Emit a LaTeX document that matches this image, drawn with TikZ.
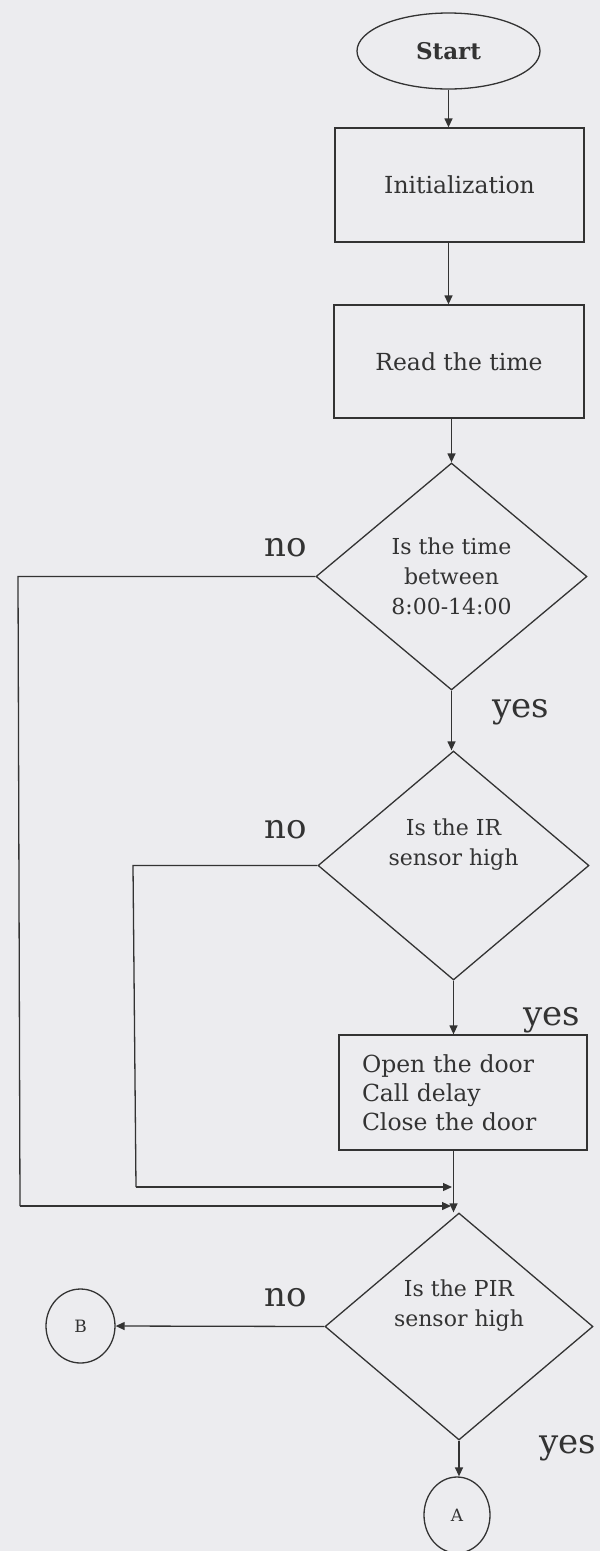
\documentclass[tikz,border=0pt]{standalone}
\usepackage{fontspec}
\setmainfont{DejaVu Serif}
\usetikzlibrary{shapes.geometric,arrows.meta}
\definecolor{paper}{HTML}{ECECEF}
\definecolor{ink}{HTML}{333333}
\tikzset{
  every node/.style={text=ink},
  base/.style={draw=ink, line width=1.3pt, inner sep=0pt, align=center},
  terminal/.style={base, ellipse, font=\fontsize{23}{27}\selectfont\bfseries},
  process/.style={base, rectangle, font=\fontsize{23.5}{29}\selectfont},
  decision/.style={base, diamond, font=\fontsize{22}{30}\selectfont},
  connector/.style={base, ellipse, font=\fontsize{17}{19}\selectfont},
  lab/.style={font=\fontsize{34}{36}\selectfont, inner sep=0pt},
  flow/.style={draw=ink, line width=1.3pt, -{Triangle[length=9pt,width=8pt]}},
  wire/.style={draw=ink, line width=1.3pt},
}
\begin{document}
\begin{tikzpicture}[x=1pt,y=-1pt]
\fill[paper] (0,0) rectangle (600,1551);
\useasboundingbox (0,0) rectangle (600,1551);

\node[terminal, minimum width=183, minimum height=76] (start) at (448.5,51) {Start};
\node[process, minimum width=249, minimum height=114] (init) at (459.5,185) {Initialization};
\node[process, minimum width=250, minimum height=113] (read) at (459,361.5) {Read the time};
\node[decision, minimum width=271, minimum height=227] (d1) at (451.5,576.5) {Is the time\\between\\8:00-14:00};
\node[decision, minimum width=271, minimum height=229] (d2) at (453.5,865.5) {Is the IR\\sensor high\\[16pt]};
\node[process, minimum width=248, minimum height=115, text width=202, inner xsep=23, align=left] (act) at (463,1092.5) {Open the door\\Call delay\\Close the door};
\node[decision, minimum width=268, minimum height=227] (d3) at (459,1326.5) {Is the PIR\\sensor high\\[16pt]};
\node[connector, minimum width=69, minimum height=74] (B) at (80.5,1326) {B};
\node[connector, minimum width=66, minimum height=76] (A) at (457,1515) {A};

\node[lab] (no1) at (286,548) {no};
\node[lab] (no2) at (286,830) {no};
\node[lab] (no3) at (286,1298) {no};
\node[lab] (yes1) at (521,712) {yes};
\node[lab] (yes2) at (552,1020) {yes};
\node[lab] (yes3) at (568,1448) {yes};

\coordinate (m1) at (451,1206);
\coordinate (m2) at (452,1187);
\coordinate (l1a) at (18,576.5);
\coordinate (l1b) at (20,1206);
\coordinate (l2a) at (133,865.5);
\coordinate (l2b) at (136,1187);

\draw[flow] (start.south) -- (start.south |- init.north);
\draw[flow] (start.south |- init.south) -- (start.south |- read.north);
\draw[flow] (d1.north |- read.south) -- (d1.north);
\draw[flow] (d1.south) -- (d1.south |- d2.north);
\draw[flow] (d2.south) -- (d2.south |- act.north);
\draw[flow] (d2.south |- act.south) -- (d2.south |- d3.north);
\draw[wire] (d1.west) -- (l1a) -- (l1b);
\draw[flow] (l1b) -- (m1);
\draw[wire] (d2.west) -- (l2a) -- (l2b);
\draw[flow] (l2b) -- (m2);
\draw[flow] (d3.west) -- (B.east);
\draw[flow] (d3.south) -- (A.north -| d3.south);
\end{tikzpicture}
\end{document}
